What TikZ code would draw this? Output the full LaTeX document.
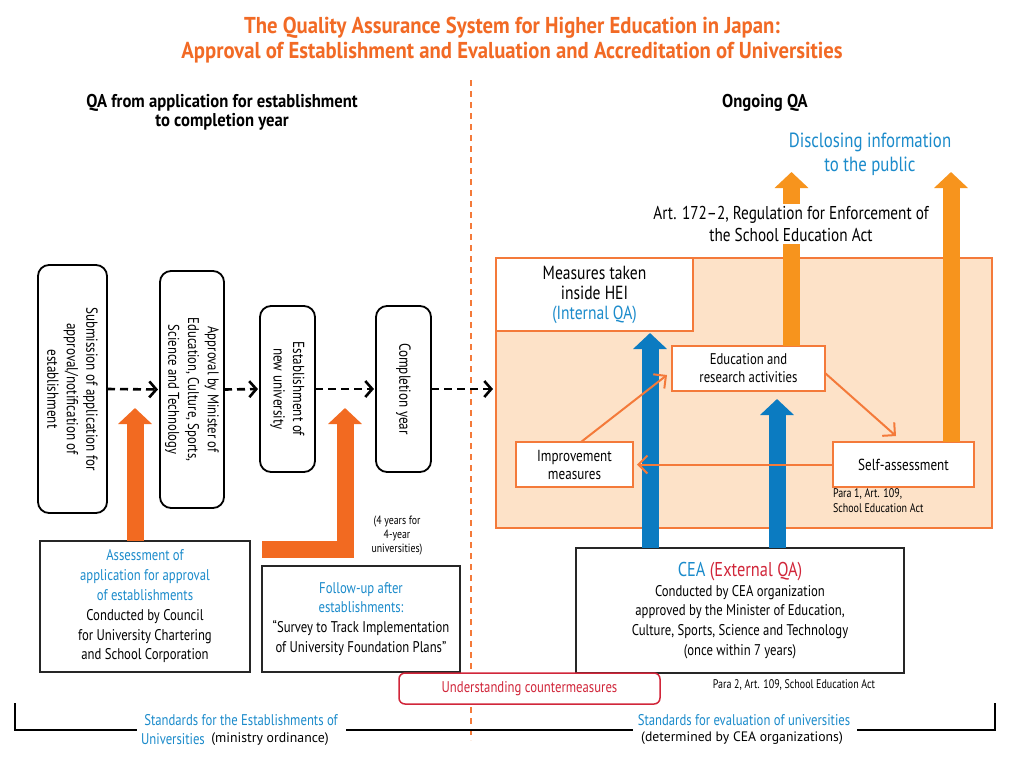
\documentclass[tikz,border=0pt]{standalone}
\usepackage{fontspec}
\setmainfont{PT Sans}[FakeStretch=0.82]
\newfontfamily\widefont{PT Sans}
\newfontfamily\titlefont{PT Sans}[FakeStretch=0.9]
\newfontfamily\narrowfont{PT Sans}[FakeStretch=0.8]
\usetikzlibrary{arrows.meta}
\definecolor{ttlorange}{HTML}{F26A25}
\definecolor{arrorange}{HTML}{F26A21}
\definecolor{discorange}{HTML}{F7941D}
\definecolor{panelfill}{HTML}{FDE2C8}
\definecolor{panelline}{HTML}{F47A3A}
\definecolor{qablue}{HTML}{0B7BC1}
\definecolor{txtblue}{HTML}{1B8BCB}
\definecolor{qared}{HTML}{D1263A}
\begin{document}
\begin{tikzpicture}[x=1pt,y=-1pt,
  every node/.style={inner sep=0pt, outer sep=0pt, align=center, font=\fontsize{15.5}{19.8}\selectfont},
  vbox/.style={draw=black, line width=1.8pt, rounded corners=11pt, rotate=-90, fill=white},
  obox/.style={draw=panelline, line width=1.5pt, fill=white},
  kbox/.style={draw=black!85, line width=1.5pt, fill=white},
  dasharr/.style={line width=2.6pt, dash pattern=on 8pt off 5pt, -{Straight Barb[length=7pt,width=16pt,line width=2.6pt]}},
  blockarr/.style={line width=17pt, line join=miter, -{Triangle[width=33pt,length=16pt]}},
  thinarr/.style={draw=panelline, line width=2pt, -{Straight Barb[length=9pt,width=18pt,line width=2pt]}},
  headtxt/.style={font=\titlefont\fontsize{18.5}{19.5}\selectfont\bfseries}
]
\useasboundingbox[fill=white] (0,0) rectangle (1024,761);

% title and headers
\node[font=\titlefont\fontsize{23}{25}\selectfont\bfseries, text=ttlorange] (title) at (512,40)
  {The Quality Assurance System for Higher Education in Japan:\\Approval of Establishment and Evaluation and Accreditation of Universities};
\draw[draw=panelline, line width=1.8pt, dash pattern=on 6pt off 5pt] (471,80) -- (471,740);
\node[headtxt] (lhead) at (222,112.5)
  {QA from application for establishment\\to completion year};
\node[headtxt] (rhead) at (765,103) {Ongoing QA};
\node[font=\fontsize{20.5}{24}\selectfont, text=txtblue] (disc) at (870,154)
  {Disclosing information\\to the public};

% left flow boxes
\node[vbox, minimum width=248, minimum height=69, font=\fontsize{16}{19.5}\selectfont] (b1) at (72.5,389)
  {Submission of application for\\approval/notification of\\establishment};
\node[vbox, minimum width=237, minimum height=64] (b2) at (192,389.5)
  {Approval by Minister of\\Education, Culture, Sports,\\Science and Technology};
\node[vbox, minimum width=166, minimum height=55, font=\fontsize{16}{19.5}\selectfont] (b3) at (287.5,389)
  {Establishment of\\new university};
\node[vbox, minimum width=166, minimum height=55, font=\fontsize{16}{19.5}\selectfont] (b4) at (403.5,389)
  {Completion year};

% right panel
\node[draw=panelline, fill=panelfill, line width=1.5pt, minimum width=496, minimum height=270] (panel) at (744,393) {};
\node[obox, minimum width=197, minimum height=73, font=\fontsize{19}{20}\selectfont] (meas) at (594.5,294.5)
  {Measures taken\\inside HEI\\\textcolor{txtblue}{(Internal QA)}};
\node[obox, minimum width=153, minimum height=45, font=\fontsize{15.5}{18}\selectfont] (edu) at (748.5,368.5)
  {Education and\\research activities};
\node[obox, minimum width=117, minimum height=45, font=\fontsize{16}{18}\selectfont] (imp) at (574.5,464.5)
  {Improvement\\measures};
\node[obox, minimum width=141, minimum height=45, font=\fontsize{16}{18}\selectfont] (self) at (903.5,464.5)
  {Self-assessment};
\node[font=\narrowfont\fontsize{12.5}{14.5}\selectfont, anchor=north west, align=left] (para1) at (833,489)
  {Para 1, Art. 109,\\School Education Act};

% dashed flow arrows
\draw[dasharr, shorten >=2pt] (b1.north) -- (b2.south);
\draw[dasharr, shorten >=2pt] (b2.north) -- (b3.south);
\draw[dasharr, shorten >=2pt] (b3.north) -- (b4.south);
\draw[dasharr, shorten >=3pt] (b4.north) -- (b4.north -| panel.west);

% bottom boxes
\node[kbox, minimum width=210, minimum height=131] (assess) at (145,606.5)
  {\textcolor{txtblue}{Assessment of}\\\textcolor{txtblue}{application for approval}\\\textcolor{txtblue}{of establishments}\\Conducted by Council\\for University Chartering\\and School Corporation};
\node[kbox, minimum width=198, minimum height=106] (follow) at (361,619)
  {\textcolor{txtblue}{Follow-up after}\\\textcolor{txtblue}{establishments:}\\``Survey to Track Implementation\\of University Foundation Plans''};
\node[font=\fontsize{12}{14}\selectfont] (fouryears) at (397,536) {(4 years for\\4-year\\universities)};
\node[kbox, minimum width=328, minimum height=125] (cea) at (740,610.5)
  {{\fontsize{20}{22}\selectfont\textcolor{txtblue}{CEA} \textcolor{qared}{(External QA)}}\\Conducted by CEA organization\\approved by the Minister of Education,\\Culture, Sports, Science and Technology\\(once within 7 years)};
\node[font=\narrowfont\fontsize{12.5}{14}\selectfont] (para2) at (794,685) {Para 2, Art. 109, School Education Act};
\node[draw=qared, line width=1.5pt, rounded corners=6pt, fill=white, minimum width=261, minimum height=31, text=qared] (under) at (529.5,688.5)
  {Understanding countermeasures};

% coordinates for block arrows
\coordinate (a1tip) at (135,408);
\coordinate (ltip) at (345,408);
\coordinate (lbar) at (262,549);
\coordinate (d1tip) at (791.5,172);
\coordinate (d2tip) at (951,172);
\coordinate (bl1tip) at (650,333);
\coordinate (bl2tip) at (777,399);
\coordinate (t1) at (667,375);
\coordinate (t2s) at (825,373);
\coordinate (t2e) at (896,436);
\coordinate (t1s) at (581,442);

% block arrows
\draw[blockarr, draw=arrorange] (assess.north -| a1tip) -- (a1tip);
\draw[blockarr, draw=arrorange] (lbar) -- (lbar -| ltip) -- (ltip);
\draw[blockarr, draw=discorange] (edu.north -| d1tip) -- (d1tip);
\draw[blockarr, draw=discorange] (self.north -| d2tip) -- (d2tip);
\draw[blockarr, draw=qablue] (cea.north -| bl1tip) -- (bl1tip);
\draw[blockarr, draw=qablue] (cea.north -| bl2tip) -- (bl2tip);

% thin cycle arrows
\draw[thinarr] (t1s) -- (t1);
\draw[thinarr] (t2s) -- (t2e);
\draw[thinarr, shorten >=4pt] (self.west) -- (imp.east);

\node[fill=white, inner sep=2pt, font=\fontsize{18.6}{22}\selectfont] (art) at (791,224)
  {Art. 172--2, Regulation for Enforcement of\\the School Education Act};

% bottom bracket
\draw[line width=2pt] (15,703) -- (15,730) -- (137,730);
\draw[line width=2pt] (346,730) -- (633,730);
\draw[line width=2pt] (857,730) -- (995,730) -- (995,703);
\node[text=txtblue] (std1) at (241,720) {Standards for the Establishments of};
\node[text=txtblue] (std1b) at (173,739) {Universities};
\node[font=\widefont\fontsize{13.8}{15}\selectfont] (mo) at (270,739) {(ministry ordinance)};
\node[text=txtblue] (std2) at (744,720) {Standards for evaluation of universities};
\node[font=\widefont\fontsize{13.7}{15}\selectfont] (det) at (742,738) {(determined by CEA organizations)};
\end{tikzpicture}
\end{document}
